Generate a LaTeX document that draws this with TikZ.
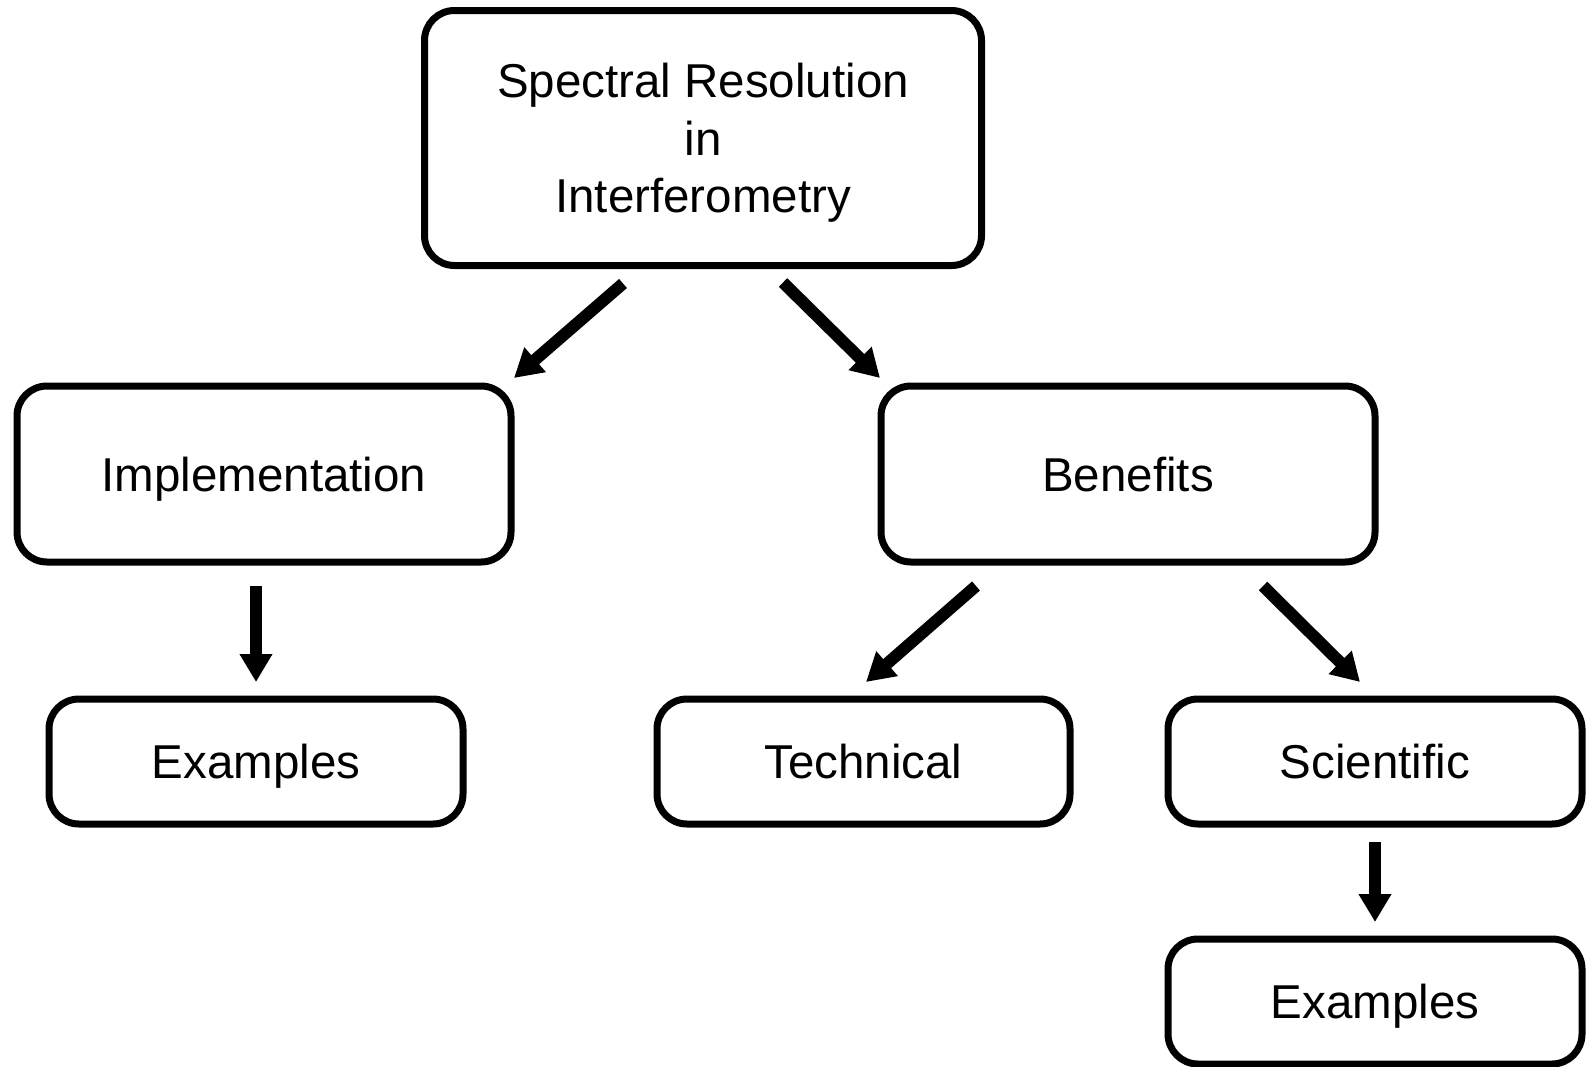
\documentclass[tikz,border=0pt]{standalone}
\usepackage{fontspec}
\setmainfont{Liberation Sans}
\usetikzlibrary{arrows.meta}
\begin{document}
\begin{tikzpicture}[x=1pt,y=-1pt,
  box/.style={draw, line width=7pt, rounded corners=30pt, outer sep=0pt, inner sep=0pt,
    align=center, text depth=0pt, font=\fontsize{47.5}{57.5}\selectfont},
  arr/.style={line width=12pt, -{Triangle[length=28pt,width=31pt]}}]
\useasboundingbox (0,0) rectangle (1589,1066);
\node[box, minimum width=557pt, minimum height=255pt] (top) at (703,138)
  {Spectral Resolution\\in\\Interferometry};
\node[box, minimum width=494pt, minimum height=176pt] (impl) at (264,474) {Implementation};
\node[box, minimum width=494pt, minimum height=176pt] (ben) at (1128,474) {Benefits};
\node[box, minimum width=414pt, minimum height=125pt] (ex1) at (256,761.5) {Examples};
\node[box, minimum width=413pt, minimum height=125pt] (tech) at (863.5,761.5) {Technical};
\node[box, minimum width=414pt, minimum height=125pt] (sci) at (1375,761.5) {Scientific};
\node[box, minimum width=414pt, minimum height=125pt] (ex2) at (1375,1001.5) {Examples};
% arrow ends
\coordinate (s1) at ([xshift=-80pt,yshift=-18pt]top.south);
\coordinate (e1) at ([xshift=3pt,yshift=8pt]impl.north east);
\coordinate (s2) at ([xshift=80pt,yshift=-17pt]top.south);
\coordinate (e2) at ([xshift=-1pt,yshift=8pt]ben.north west);
\coordinate (s3) at ([xshift=-8pt,yshift=-24pt]impl.south);
\coordinate (e3) at ([yshift=17pt]ex1.north);
\coordinate (s4) at ([xshift=-152pt,yshift=-24pt]ben.south);
\coordinate (e4) at ([xshift=2.5pt,yshift=17pt]tech.north);
\coordinate (s5) at ([xshift=135pt,yshift=-24pt]ben.south);
\coordinate (e5) at ([xshift=-15pt,yshift=17pt]sci.north);
\coordinate (s6) at ([yshift=-18pt]sci.south);
\coordinate (e6) at ([yshift=17pt]ex2.north);
\draw[arr] (s1) -- (e1);
\draw[arr] (s2) -- (e2);
\draw[arr] (s3) -- (e3);
\draw[arr] (s4) -- (e4);
\draw[arr] (s5) -- (e5);
\draw[arr] (s6) -- (e6);
\end{tikzpicture}
\end{document}
